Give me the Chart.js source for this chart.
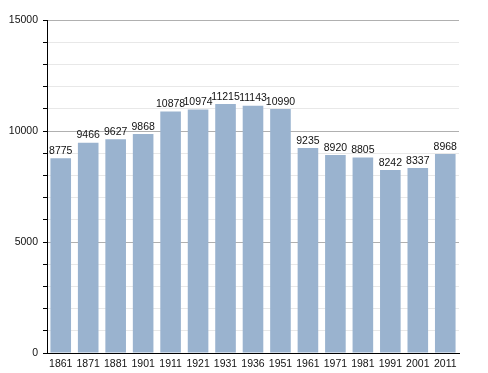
<!DOCTYPE html>
<html>
<head>
<meta charset="utf-8">
<script src="https://cdn.jsdelivr.net/npm/chart.js@4"></script>
<style>
  html, body { margin: 0; padding: 0; background: #fff; }
  #wrap { width: 488px; height: 373px; }
</style>
</head>
<body>
<div id="wrap"><canvas id="chart" width="488" height="373"></canvas></div>
<script>
const years = ['1861', '1871', '1881', '1901', '1911', '1921', '1931', '1936', '1951', '1961', '1971', '1981', '1991', '2001', '2011'];
const population = [8775, 9466, 9627, 9868, 10878, 10974, 11215, 11143, 10990, 9235, 8920, 8805, 8242, 8337, 8968];
const yTicks = [0, 5000, 10000, 15000];

const barColor = '#9ab3cf';

// writes each value above its bar
const valueLabels = {
  id: 'valueLabels',
  afterDatasetsDraw(chart) {
    const ctx = chart.ctx;
    const meta = chart.getDatasetMeta(0);
    ctx.save();
    ctx.font = '10.5px "Liberation Sans", Arial, sans-serif';
    ctx.fillStyle = '#111';
    ctx.textAlign = 'center';
    ctx.textBaseline = 'bottom';
    meta.data.forEach((bar, i) => {
      ctx.fillText(String(population[i]), bar.x, bar.y - 2);
    });
    ctx.restore();
  }
};

new Chart(document.getElementById('chart'), {
  type: 'bar',
  data: {
    labels: years,
    datasets: [{
      data: population,
      backgroundColor: barColor,
      borderWidth: 0,
      barPercentage: 0.75,
      categoryPercentage: 1.0
    }]
  },
  options: {
    responsive: false,
    animation: false,
    layout: { padding: { left: 0, right: 29, top: 20, bottom: 0 } },
    plugins: {
      legend: { display: false },
      tooltip: { enabled: false }
    },
    scales: {
      x: {
        grid: { display: false, drawTicks: false },
        border: { display: true, color: '#000', width: 1 },
        ticks: {
          color: '#111',
          padding: 5,
          maxRotation: 0,
          autoSkip: false,
          font: { family: '"Liberation Sans", Arial, sans-serif', size: 10.5 }
        },
        afterFit(scale) { scale.height = 20; }
      },
      y: {
        min: 0,
        max: 15000,
        ticks: {
          stepSize: 1000,
          color: '#111',
          padding: 5,
          font: { family: '"Liberation Sans", Arial, sans-serif', size: 10.5 },
          callback: v => yTicks.includes(v) ? String(v) : ''
        },
        grid: {
          color: c => (c.tick && c.tick.value % 5000 === 0) ? '#b0b0b0' : '#e8e8e8',
          tickColor: '#000',
          tickLength: 4,
          lineWidth: 1
        },
        border: { display: true, color: '#000', width: 1 },
        afterFit(scale) { scale.width = 47; }
      }
    }
  },
  plugins: [valueLabels]
});
</script>
</body>
</html>
